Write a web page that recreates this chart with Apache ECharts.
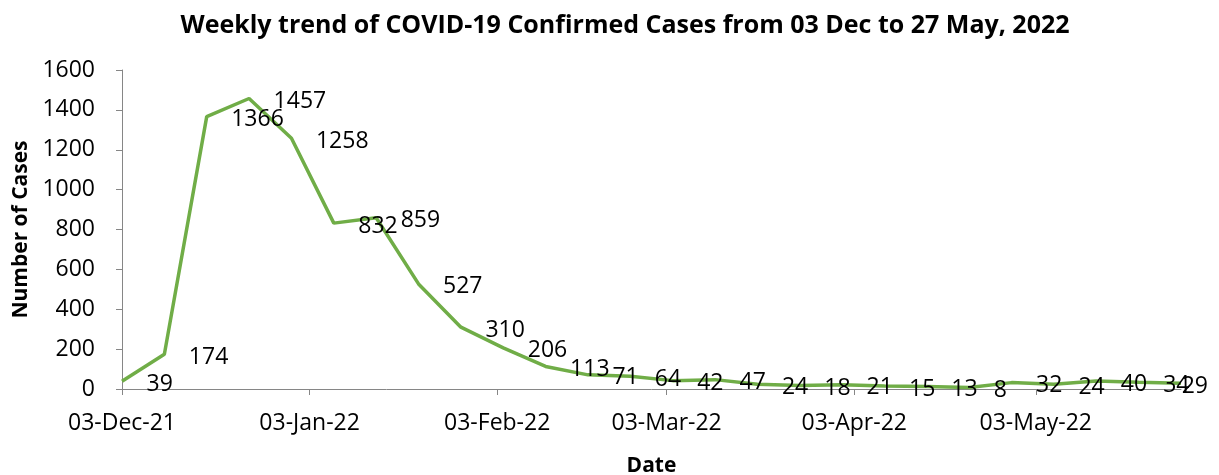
<!DOCTYPE html>
<html>
<head>
<meta charset="utf-8">
<title>Weekly trend of COVID-19 Confirmed Cases</title>
<script src="https://cdn.jsdelivr.net/npm/echarts@6/dist/echarts.min.js"></script>
<style>
  html, body { margin: 0; padding: 0; background: #fff; }
  #chart { width: 1219px; height: 475px; }
</style>
</head>
<body>
<div id="chart"></div>
<script>
// weekly report dates (Friday each week)
const weekDates = [
  '2021-12-03', '2021-12-10', '2021-12-17', '2021-12-24', '2021-12-31',
  '2022-01-07', '2022-01-14', '2022-01-21', '2022-01-28',
  '2022-02-04', '2022-02-11', '2022-02-18', '2022-02-25',
  '2022-03-04', '2022-03-11', '2022-03-18', '2022-03-25',
  '2022-04-01', '2022-04-08', '2022-04-15', '2022-04-22', '2022-04-29',
  '2022-05-06', '2022-05-13', '2022-05-20', '2022-05-27'
];
// confirmed cases per week
const cases = [
  39, 174, 1366, 1457, 1258, 832, 859, 527, 310, 206, 113, 71, 64,
  42, 47, 24, 18, 21, 15, 13, 8, 32, 24, 40, 34, 29
];
// x axis ticks
const tickDates = ['2021-12-03', '2022-01-03', '2022-02-03', '2022-03-03', '2022-04-03', '2022-05-03'];
const tickLabels = ['03-Dec-21', '03-Jan-22', '03-Feb-22', '03-Mar-22', '03-Apr-22', '03-May-22'];

const DAY = 86400000;
const start = Date.parse(weekDates[0]);
const toDay = d => Math.round((Date.parse(d) - start) / DAY);

const tickDays = tickDates.map(toDay);
const seriesData = weekDates.map((d, i) => [toDay(d), cases[i]]);

const FONT = 'Open Sans';
const axisGrey = '#868686';

const chart = echarts.init(document.getElementById('chart'));

chart.setOption({
  animation: false,
  textStyle: { fontFamily: FONT },
  title: {
    text: 'Weekly trend of COVID-19 Confirmed Cases from 03 Dec to 27 May, 2022',
    left: 620,
    textAlign: 'center',
    top: 8,
    textStyle: { fontFamily: FONT, fontSize: 25, fontWeight: 'bold', color: '#000' }
  },
  grid: { left: 122, right: 38, top: 70, bottom: 86, containLabel: false, outerBoundsMode: 'none' },
  xAxis: {
    type: 'value',
    min: 0,
    max: toDay(weekDates[weekDates.length - 1]),
    name: 'Date',
    nameLocation: 'middle',
    nameGap: 67,
    nameTextStyle: { fontFamily: FONT, fontSize: 21, fontWeight: 'bold', color: '#000' },
    splitLine: { show: false },
    axisLine: { show: true, lineStyle: { color: axisGrey, width: 1 } },
    axisTick: { show: true, length: 6, customValues: tickDays, lineStyle: { color: axisGrey } },
    axisLabel: {
      customValues: tickDays,
      margin: 23,
      fontSize: 23,
      color: '#000',
      formatter: v => tickLabels[tickDays.indexOf(v)] || ''
    }
  },
  yAxis: {
    type: 'value',
    min: 0,
    max: 1600,
    interval: 200,
    name: 'Number of Cases',
    nameLocation: 'middle',
    nameGap: 90,
    nameTextStyle: { fontFamily: FONT, fontSize: 21, fontWeight: 'bold', color: '#000' },
    splitLine: { show: false },
    axisLine: { show: true, lineStyle: { color: axisGrey, width: 1 } },
    axisTick: { show: true, length: 6, lineStyle: { color: axisGrey } },
    axisLabel: { margin: 27, fontSize: 23, color: '#000', formatter: v => String(v) }
  },
  series: [{
    type: 'line',
    data: seriesData,
    symbol: 'circle',
    symbolSize: 1,
    showSymbol: true,
    itemStyle: { color: 'rgba(0,0,0,0)' },
    lineStyle: { color: '#70AD47', width: 3.5 },
    label: {
      show: true,
      position: 'right',
      distance: 24,
      fontFamily: FONT,
      fontSize: 23,
      color: '#000',
      formatter: p => p.value[1]
    },
    labelLayout: p => {
      // nudge labels down a little; keep the last one inside the chart like the original
      const r = p.labelRect;
      const x = r.x + r.width > 1210 ? 1208 - r.width : r.x;
      return { x: x, y: r.y + r.height / 2 + 3, align: 'left', verticalAlign: 'middle' };
    },
    emphasis: { disabled: true }
  }]
});
</script>
</body>
</html>
